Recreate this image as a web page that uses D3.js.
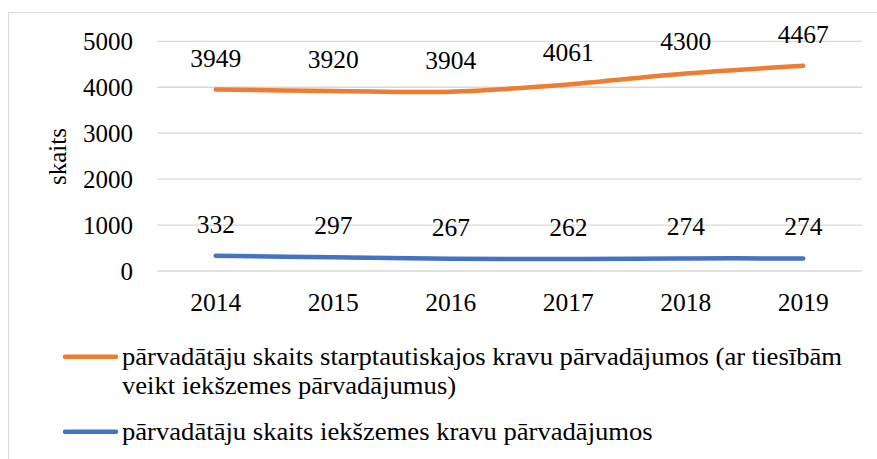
<!DOCTYPE html>
<html><head><meta charset="utf-8">
<script src="https://cdn.jsdelivr.net/npm/d3@7"></script>
<style>
body{margin:0;background:#fff;}
svg text{font-family:'Liberation Serif','Times New Roman',serif;fill:#000;}
</style></head>
<body><svg id="c" width="877" height="459"></svg>
<script>
const years = ["2014","2015","2016","2017","2018","2019"];
const intlValues = [3949,3920,3904,4061,4300,4467];
const domValues = [332,297,267,262,274,274];
const yTicks = [0,1000,2000,3000,4000,5000];
const seriesNames = [
  ["pārvadātāju skaits starptautiskajos kravu pārvadājumos (ar tiesībām","veikt iekšzemes pārvadājumus)"],
  ["pārvadātāju skaits iekšzemes kravu pārvadājumos"]
];
const colors = ["#ED7D31","#4472C4"];
const FONT = "'Liberation Serif'";

const svg = d3.select("#c");
svg.append("rect").attr("x",8.5).attr("y",12.5).attr("width",900).attr("height",500)
  .attr("fill","#fff").attr("stroke","#d9d9d9").attr("stroke-width",1);

const x = d3.scaleBand().domain(years).range([157,862]);
const y = d3.scaleLinear().domain([0,5000]).range([271,41.3]);

svg.append("g").selectAll("line").data(yTicks).join("line")
  .attr("x1",157).attr("x2",862).attr("y1",d=>y(d)).attr("y2",d=>y(d))
  .attr("stroke","#d9d9d9").attr("stroke-width",1.3);

svg.append("g").selectAll("text").data(yTicks).join("text")
  .attr("x",133).attr("y",d=>y(d)+9).attr("text-anchor","end")
  .attr("font-size",25).style("font-family",FONT).text(d=>d);

svg.append("g").selectAll("text").data(years).join("text")
  .attr("x",d=>x(d)+x.bandwidth()/2).attr("y",310.7).attr("text-anchor","middle")
  .attr("font-size",25.5).style("font-family",FONT).text(d=>d);

svg.append("text").attr("transform","translate(66,156.5) rotate(-90)")
  .attr("text-anchor","middle").attr("font-size",25).style("font-family",FONT).text("skaits");

const line = d3.line().x((d,i)=>x(years[i])+x.bandwidth()/2).y(d=>y(d))
  .curve(d3.curveCardinal.tension(0));

[intlValues, domValues].forEach((vals,k)=>{
  svg.append("path").datum(vals).attr("d",line).attr("fill","none")
    .attr("stroke",colors[k]).attr("stroke-width",4.5).attr("stroke-linecap","round");
  svg.append("g").selectAll("text").data(vals).join("text")
    .attr("x",(d,i)=>x(years[i])+x.bandwidth()/2).attr("y",d=>y(d)-23)
    .attr("text-anchor","middle").attr("font-size",25.5).style("font-family",FONT).text(d=>d);
});

const legY = [356.7, 431.7];
const legTexts = [];
seriesNames.forEach((lines,k)=>{
  svg.append("line").attr("x1",65).attr("x2",116).attr("y1",legY[k]).attr("y2",legY[k])
    .attr("stroke",colors[k]).attr("stroke-width",4.5).attr("stroke-linecap","round");
  lines.forEach((t,j)=>{
    legTexts.push(svg.append("text").attr("x",122).attr("y",legY[k]+8.5+j*28.3)
      .attr("font-size",25.5).style("font-family",FONT).text(t));
  });
});
// slight horizontal fit so the first legend line spans the reference width
let s = 720 / legTexts[0].node().getComputedTextLength();
s = Math.max(0.94, Math.min(1.06, s));
if (Math.abs(s-1) > 0.01) {
  legTexts.forEach(t=>{
    const w = t.node().getComputedTextLength();
    t.attr("textLength", w*s).attr("lengthAdjust","spacingAndGlyphs");
  });
}
</script></body></html>
